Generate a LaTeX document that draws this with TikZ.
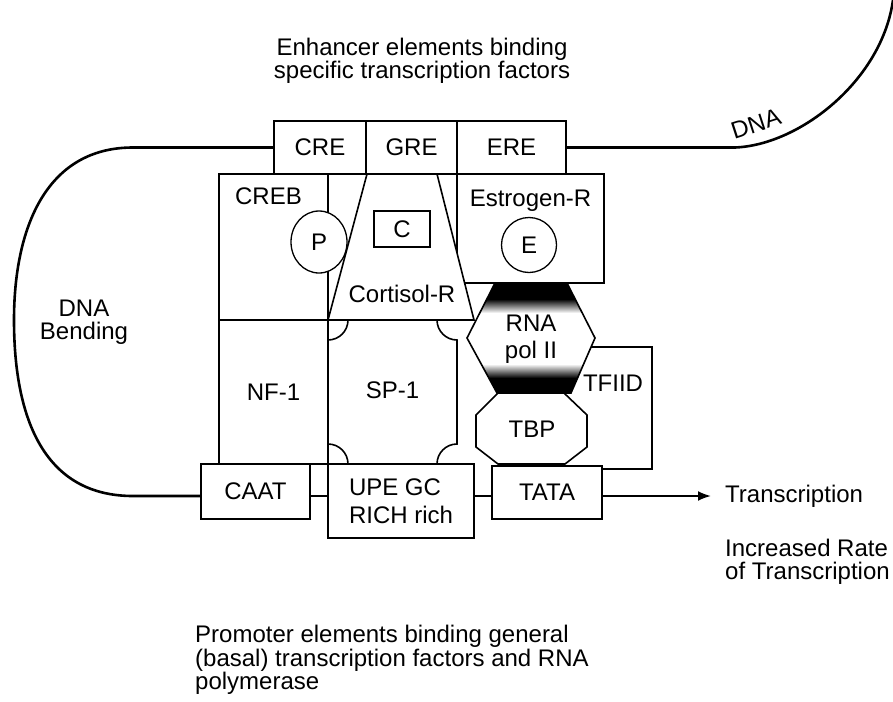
\documentclass[tikz,border=0pt]{standalone}
\usepackage{fontspec}
\setsansfont{Liberation Sans}
\usetikzlibrary{arrows.meta,positioning,shapes.geometric}

\begin{document}
\begin{tikzpicture}[
  x=1pt,y=-1pt,
  every node/.style={font=\sffamily\fontsize{24}{23.5}\selectfont,align=center,inner sep=0pt},
  site/.style={draw,fill=white,line width=1.6pt,outer sep=0pt,minimum height=53},
  factor/.style={draw,fill=white,line width=1.6pt,outer sep=0pt},
  ligand/.style={draw,fill=white,line width=1.3pt},
  dna/.style={line width=2.6pt},
  arr/.style={-{Latex[length=13pt,width=10pt]},line width=2pt}
]
\useasboundingbox (0,0) rectangle (893,701);
\node (enh) at (422,61) {Enhancer elements binding\\specific transcription factors};
\node[site,minimum width=92] (cre) at (320,147.5) {CRE};
\node[site,minimum width=91,right=0pt of cre] (gre) {GRE};
\node[site,minimum width=109,right=0pt of gre] (ere) {ERE};
\draw[factor] (590,347) -| (652,469) -- (595,469);
\node (tfiid) at (613,383) {TFIID};
\node[factor,minimum width=147,minimum height=109] (estr) at (530.5,228.5) {};
\node[below=16pt of estr.north] (estrlbl) {Estrogen-R};
\node[ligand,circle,minimum size=55] (e) at (529,245) {E};
\node[factor,minimum width=109,minimum height=146] (creb) at (273.5,247) {};
\node[below=14pt of creb.north,xshift=-5pt] (creblbl) {CREB};
\draw[factor] (367,174) -- (437,174) -- (474,320) -- (328,320) -- cycle;
\node[ligand,ellipse,minimum width=56,minimum height=62] (p) at (319,242) {P};
\node[ligand,minimum width=56,minimum height=36] (c) at (402,229) {C};
\node (cortlbl) at (402,294) {Cortisol-R};
\node[factor,minimum width=109,minimum height=144] (nf1) at (273.5,392) {NF-1};
\draw[factor] (348,320) -- (437,320) arc[start angle=180,end angle=90,radius=20]
  -- (457,444) arc[start angle=270,end angle=180,radius=20]
  -- (348,464) arc[start angle=0,end angle=-90,radius=20]
  -- (328,340) arc[start angle=90,end angle=0,radius=20] -- cycle;
\node (sp1) at (392.5,390) {SP-1};
\fill[white] (494,285) -- (568,285) -- (595,338) -- (571,393) -- (497,393) -- (467,338) -- cycle;
\begin{scope}
  \clip (494,285) -- (568,285) -- (595,338) -- (571,393) -- (497,393) -- (467,338) -- cycle;
  \fill[black] (460,280) rectangle (600,299);
  \shade[top color=black,bottom color=white] (460,299) rectangle (600,313);
  \shade[top color=white,bottom color=black] (460,364) rectangle (600,378);
  \fill[black] (460,378) rectangle (600,398);
\end{scope}
\draw[line width=1.6pt] (494,285) -- (568,285) -- (595,338) -- (571,393) -- (497,393) -- (467,338) -- cycle;
\node (rnapol) at (531,339) {RNA\\[4pt]pol II};
\draw[factor] (498,393) -- (564,393) -- (587,415) -- (587,447) -- (565,464)
  -- (498,464) -- (476,447) -- (476,415) -- cycle;
\node (tbp) at (532,429) {TBP};
\node[site,minimum width=109,minimum height=55] (caat) at (255.5,491.5) {CAAT};
\node[site,minimum width=146,minimum height=74,align=left] (upe) at (401,501) {UPE GC\\[4pt]RICH rich};
\node[site,minimum width=110] (tata) at (547,492.5) {TATA};
\coordinate (dnaB) at (0,496);
\draw[dna] (cre.west) -- (133,147.5) .. controls (45,147.5) and (14,230) .. (14,320)
  .. controls (14,420) and (45,496) .. (133,496) -- (caat.west |- dnaB);
\draw[dna] (caat.east |- dnaB) -- (upe.west |- dnaB);
\draw[dna] (upe.east |- dnaB) -- (tata.west |- dnaB);
\draw[dna] (ere.east) -- (735,147.5) .. controls (800,145) and (882,80) .. (893,0);
\node[rotate=18] (dnalbl) at (756,124) {DNA};
\node (bend) at (84,322) {DNA\\Bending};
\node[anchor=west] (txn) at (725,496) {Transcription};
\draw[arr] (tata.east |- dnaB) -- ([xshift=-14pt]txn.west);
\node[anchor=west,align=left] (rate) at (725,562) {Increased Rate\\of Transcription};
\node[anchor=west,align=left] (prom) at (195,660) {Promoter elements binding general\\(basal) transcription factors and RNA\\polymerase};
\end{tikzpicture}
\end{document}
